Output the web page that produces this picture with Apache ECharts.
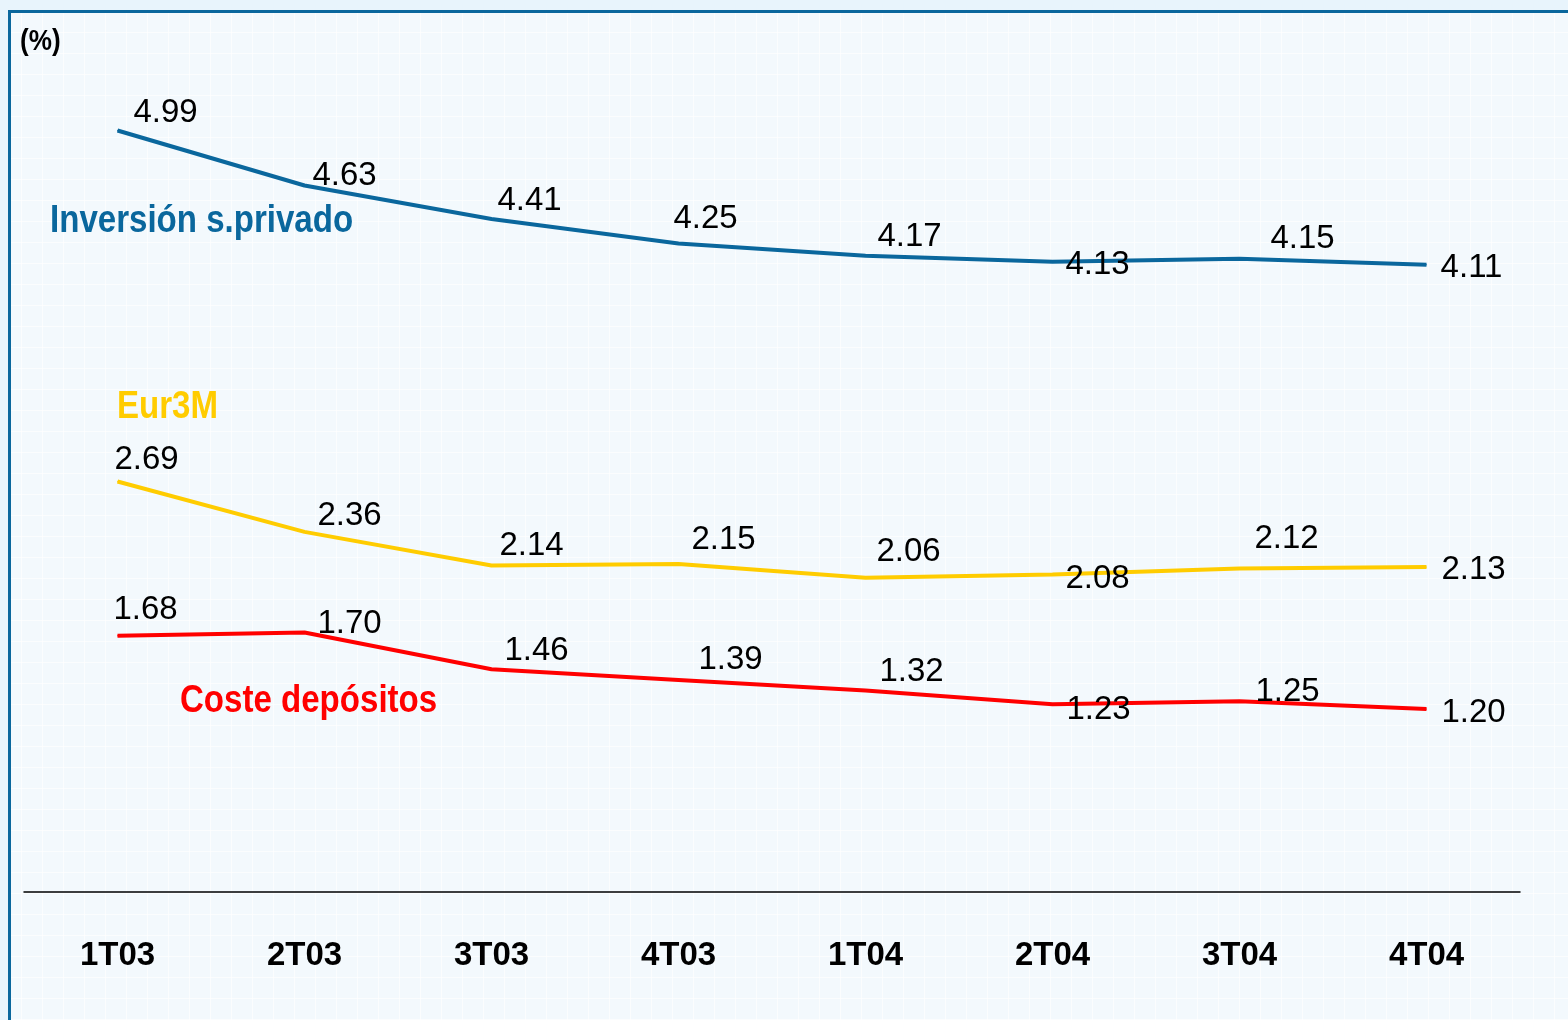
<!DOCTYPE html>
<html>
<head>
    <meta charset="utf-8">
    <title>Rendimientos y costes</title>
    <script src="https://cdn.jsdelivr.net/npm/echarts@6/dist/echarts.min.js"></script>
    <style>
        html, body {
            margin: 0;
            padding: 0;
            background: #e8f4fc;
        }
        #main {
            width: 1568px;
            height: 1020px;
            background-color: #f3f9fd;
            background-image:
                repeating-linear-gradient(0deg, rgba(255,255,255,0.7) 0 1px, transparent 1px 21px),
                repeating-linear-gradient(90deg, rgba(255,255,255,0.7) 0 1px, transparent 1px 21px);
        }
    </style>
</head>
<body>
<div id="main"></div>
<script type="text/javascript">
    var categories = ['1T03', '2T03', '3T03', '4T03', '1T04', '2T04', '3T04', '4T04'];
    var inversion = [4.99, 4.63, 4.41, 4.25, 4.17, 4.13, 4.15, 4.11];
    var eur3m = [2.69, 2.36, 2.14, 2.15, 2.06, 2.08, 2.12, 2.13];
    var coste = [1.68, 1.70, 1.46, 1.39, 1.32, 1.23, 1.25, 1.20];

    // desplazamiento de cada etiqueta respecto a su punto (px)
    var offInversion = [[48, -18], [40, -10], [38, -18], [27, -25], [44, -19], [45, 3], [63, -20], [45, 3]];
    var offEur3m = [[29, -22], [45, -16], [40, -20], [45, -24], [43, -26], [45, 4], [47, -30], [47, 3]];
    var offCoste = [[28, -26], [45, -9], [45, -18], [52, -20], [46, -19], [46, 6], [48, -9], [47, 4]];

    var FONT = '"Liberation Sans Narrow", "Arial Narrow", "Liberation Sans", Arial, sans-serif';

    function points(values, offsets) {
        return values.map(function (v, i) {
            return {
                value: v,
                label: { offset: offsets[i] }
            };
        });
    }

    function lineSeries(name, values, offsets, color) {
        return {
            name: name,
            type: 'line',
            data: points(values, offsets),
            symbol: 'circle',
            symbolSize: 1,
            showSymbol: true,
            lineStyle: { color: color, width: 4 },
            itemStyle: { color: color },
            emphasis: { disabled: true },
            label: {
                show: true,
                position: 'inside',
                align: 'center',
                verticalAlign: 'middle',
                formatter: function (p) { return p.value.toFixed(2); },
                color: '#000',
                fontFamily: FONT,
                fontSize: 33
            }
        };
    }

    function title(txt, x, y, color, size) {
        return {
            type: 'text',
            x: x,
            y: y,
            scaleX: 0.87,
            silent: true,
            style: {
                text: txt,
                fill: color,
                font: 'bold ' + size + 'px ' + FONT,
                verticalAlign: 'middle'
            }
        };
    }

    var chart = echarts.init(document.getElementById('main'));
    var option = {
        animation: false,
        backgroundColor: 'transparent',
        grid: { left: 24, right: 48, top: 129, bottom: 128 },
        xAxis: {
            type: 'category',
            data: categories,
            boundaryGap: true,
            axisLine: { lineStyle: { color: '#000', width: 1.5 } },
            axisTick: { show: false },
            axisLabel: {
                margin: 47,
                color: '#000',
                fontFamily: FONT,
                fontWeight: 'bold',
                fontSize: 33
            }
        },
        yAxis: {
            type: 'value',
            min: 0,
            max: 5,
            show: false
        },
        graphic: [
            { type: 'rect', shape: { x: 0, y: 0, width: 1568, height: 10 }, style: { fill: '#e8f4fc' }, silent: true },
            { type: 'rect', shape: { x: 0, y: 0, width: 8, height: 1020 }, style: { fill: '#e8f4fc' }, silent: true },
            { type: 'rect', shape: { x: 8, y: 10, width: 1560, height: 3 }, style: { fill: '#0a679d' }, silent: true },
            { type: 'rect', shape: { x: 8, y: 10, width: 3, height: 1010 }, style: { fill: '#0a679d' }, silent: true },
            title('(%)', 20, 42, '#000', 30),
            title('Inversión s.privado', 50, 222, '#0a679d', 38),
            title('Eur3M', 117, 408, '#ffcc00', 38),
            title('Coste depósitos', 180, 702, '#ff0000', 38)
        ],
        series: [
            lineSeries('Inversión s.privado', inversion, offInversion, '#0a679d'),
            lineSeries('Eur3M', eur3m, offEur3m, '#ffcc00'),
            lineSeries('Coste depósitos', coste, offCoste, '#ff0000')
        ]
    };
    chart.setOption(option);
    window.onresize = function () {
        chart.resize();
    };
</script>
</body>
</html>
